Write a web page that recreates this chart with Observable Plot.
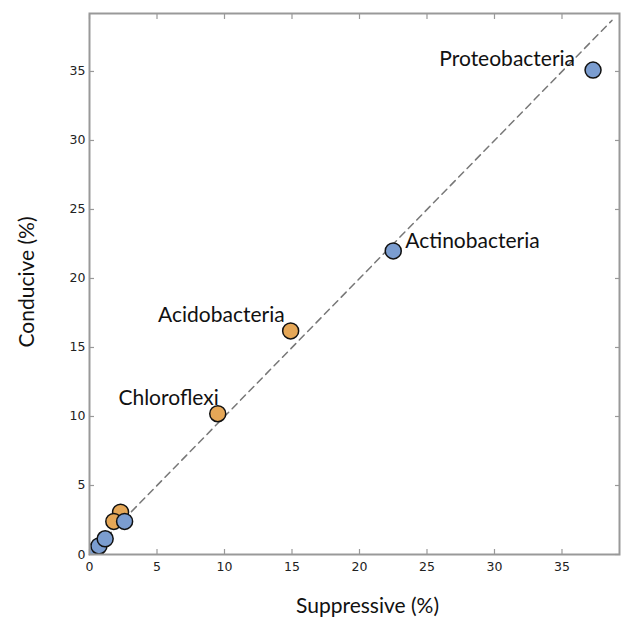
<!DOCTYPE html>
<html>
<head>
<meta charset="utf-8">
<script src="https://cdn.jsdelivr.net/npm/d3@7"></script>
<script src="https://cdn.jsdelivr.net/npm/@observablehq/plot@0.6"></script>
<style>
  html, body { margin: 0; padding: 0; background: #fff; }
  #chart svg { display: block; }
</style>
</head>
<body>
<div id="chart"></div>
<script>
// Phyla relative abundance (%) in suppressive vs conducive soils
const orangeSuppressive = [2.3, 1.8, 9.5, 14.9];
const orangeConducive   = [3.07, 2.4, 10.2, 16.2];
const blueSuppressive   = [0.05, 0.15, 0.3, 0.45, 0.7, 1.16, 2.6, 22.5, 37.3];
const blueConducive     = [0.02, 0.05, 0.12, 0.3, 0.62, 1.14, 2.4, 22.0, 35.1];

const labelNames = ["Proteobacteria", "Actinobacteria", "Acidobacteria", "Chloroflexi"];
const labelSuppressive = [37.3, 22.5, 14.9, 9.5];
const labelConducive   = [35.1, 22.0, 16.2, 10.2];

const xTicks = [0, 5, 10, 15, 20, 25, 30, 35];
const yTicks = [0, 5, 10, 15, 20, 25, 30, 35];
const diagonal = [0, 38.7];

const xLabel = "Suppressive (%)";
const yLabel = "Conducive (%)";

const orange = orangeSuppressive.map((s, i) => ({s, c: orangeConducive[i]}));
const blue = blueSuppressive.map((s, i) => ({s, c: blueConducive[i]}));
const labels = labelNames.map((name, i) => ({name, s: labelSuppressive[i], c: labelConducive[i]}));

const FRAME = "#999";
const annFont = "Lato, 'Open Sans', sans-serif";
const tickFont = "'DejaVu Sans', sans-serif";

const axisCommon = {
  stroke: FRAME,
  strokeWidth: 1.2,
  tickSize: -5,
  tickFormat: () => "",
  label: null
};

function labelMark(name, opts) {
  return Plot.text(labels.filter(d => d.name === name), {
    x: "s", y: "c", text: "name",
    fontSize: 21, fontFamily: annFont, fill: "#111",
    ...opts
  });
}

const chart = Plot.plot({
  width: 624,
  height: 619,
  marginLeft: 89,
  marginRight: 5,
  marginTop: 13,
  marginBottom: 65,
  style: { background: "#fff", overflow: "visible" },
  x: { domain: [0, 39.26], ticks: xTicks },
  y: { domain: [0, 39.2], ticks: yTicks },
  marks: [
    Plot.line(diagonal, {x: d => d, y: d => d, stroke: "#777", strokeWidth: 1.5, strokeDasharray: "7,5"}),
    Plot.dot(orange, {x: "s", y: "c", r: 8, fill: "#E5A757", stroke: "#111", strokeWidth: 1.5, clip: true}),
    Plot.dot(blue, {x: "s", y: "c", r: 8, fill: "#7B9DD0", stroke: "#111", strokeWidth: 1.5, clip: true}),
    labelMark("Proteobacteria", {textAnchor: "end", dx: -18, dy: -11}),
    labelMark("Actinobacteria", {textAnchor: "start", dx: 12, dy: -10}),
    labelMark("Acidobacteria", {textAnchor: "end", dx: -6, dy: -16}),
    labelMark("Chloroflexi", {textAnchor: "end", dx: 1, dy: -15}),
    Plot.axisX(xTicks, {...axisCommon, anchor: "bottom"}),
    Plot.axisY(yTicks, {...axisCommon, anchor: "left"}),
    Plot.axisX(xTicks, {...axisCommon, anchor: "top"}),
    Plot.axisY(yTicks, {...axisCommon, anchor: "right"}),
    Plot.text(xTicks, {x: d => d, text: d => String(d), frameAnchor: "bottom", textAnchor: "middle", lineAnchor: "middle", dy: 12, fontSize: 12.5, fontFamily: tickFont, fill: "#222"}),
    Plot.text(yTicks, {y: d => d, text: d => String(d), frameAnchor: "left", textAnchor: "end", lineAnchor: "middle", dx: -4, fontSize: 12.5, fontFamily: tickFont, fill: "#222"}),
    Plot.frame({stroke: FRAME, strokeWidth: 2}),
    Plot.text([xLabel], {text: d => d, frameAnchor: "bottom", textAnchor: "middle", lineAnchor: "middle", dx: 13, dy: 52, fontSize: 21, fontFamily: annFont, fill: "#111"}),
    Plot.text([yLabel], {text: d => d, frameAnchor: "left", textAnchor: "middle", lineAnchor: "middle", rotate: -90, dx: -62, dy: -2, fontSize: 21, fontFamily: annFont, fill: "#111"})
  ]
});

document.getElementById("chart").appendChild(chart);
</script>
</body>
</html>
